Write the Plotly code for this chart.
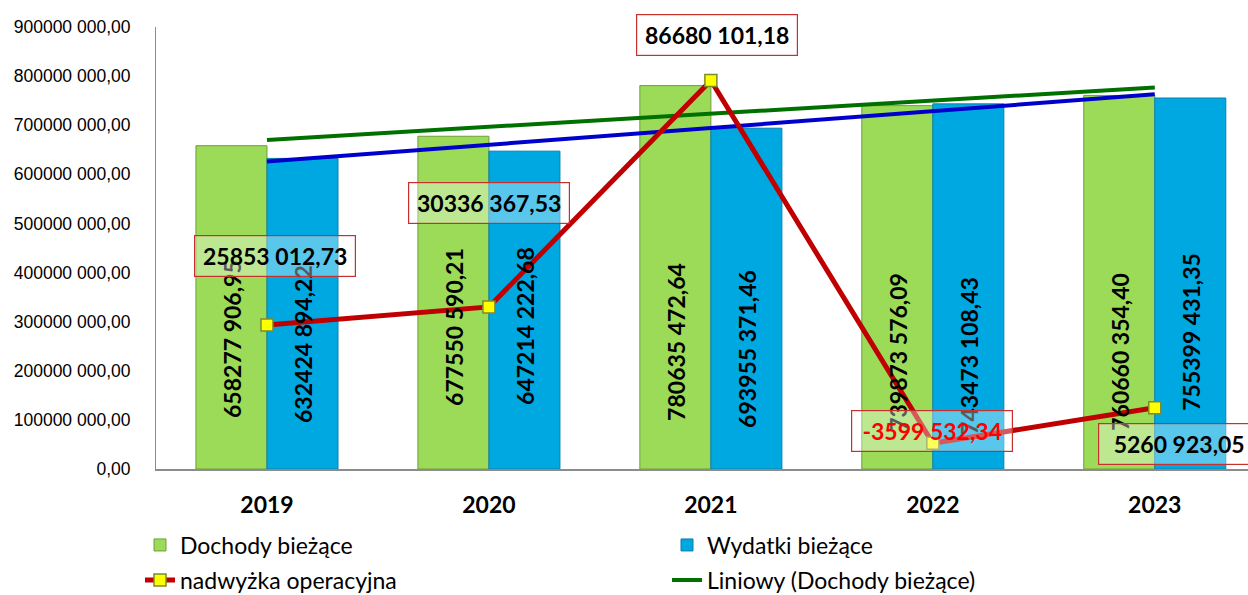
import numpy as np
import plotly.graph_objects as go

# ---------------- data ----------------
years = ["2019", "2020", "2021", "2022", "2023"]
dochody = [658277906.95, 677550590.21, 780635472.64, 739873576.09, 760660354.40]
wydatki = [632424894.22, 647214222.68, 693955371.46, 743473108.43, 755399431.35]
nadwyzka = [25853012.73, 30336367.53, 86680101.18, -3599532.34, 5260923.05]

y_tick_vals = [0, 100e6, 200e6, 300e6, 400e6, 500e6, 600e6, 700e6, 800e6, 900e6]
y_tick_text = ["0,00", "100000 000,00", "200000 000,00", "300000 000,00", "400000 000,00",
               "500000 000,00", "600000 000,00", "700000 000,00", "800000 000,00", "900000 000,00"]

name_doch = "Dochody bieżące"
name_wyd = "Wydatki bieżące"
name_nadw = "nadwyżka operacyjna"
name_trend = "Liniowy (Dochody bieżące)"
name_trend2 = "Liniowy (Wydatki bieżące)"


def fmt(v):
    neg = v < 0
    cents = int(round(abs(v) * 100))
    ip, fr = divmod(cents, 100)
    hi, lo = divmod(ip, 1000)
    s = (f"{hi} {lo:03d}" if hi else f"{lo}") + f",{fr:02d}"
    return ("-" if neg else "") + s


# linear trendlines (Excel "Liniowy")
xi = np.arange(len(years))
trend_d = np.polyval(np.polyfit(xi, dochody, 1), xi)
trend_w = np.polyval(np.polyfit(xi, wydatki, 1), xi)

# ---------------- styling ----------------
GREEN = "#9bdb57"
BLUE = "#00a8e2"
RED = "#c00000"
CAL = "Lato, 'Open Sans', sans-serif"
ARIAL = "'Liberation Sans', Arial, sans-serif"

fig = go.Figure()

fig.add_trace(go.Bar(x=years, y=dochody, name=name_doch,
                     marker=dict(color=GREEN, line=dict(color="#6f9e3a", width=1)),
                     legend="legend"))
fig.add_trace(go.Bar(x=years, y=wydatki, name=name_wyd,
                     marker=dict(color=BLUE, line=dict(color="#0a7fae", width=1)),
                     legend="legend2"))
fig.add_trace(go.Scatter(x=years, y=trend_d, name=name_trend, mode="lines",
                         line=dict(color="#007000", width=4), legend="legend4"))
fig.add_trace(go.Scatter(x=years, y=trend_w, name=name_trend2, mode="lines",
                         line=dict(color="#0000cc", width=4), showlegend=False))
fig.add_trace(go.Scatter(x=years, y=nadwyzka, name=name_nadw, mode="lines+markers", yaxis="y2",
                         line=dict(color=RED, width=5),
                         marker=dict(symbol="square", size=12, color="#ffff00",
                                     line=dict(color="#7f8a2a", width=1.5)),
                         legend="legend3"))

annotations = []
# vertical value labels inside bars
lift_d = [49, 61, 46, 36, 36]
lift_w = [44, 62, 39, 32, 56]
for i in range(len(years)):
    for val, dx, lift in ((dochody[i], -35, lift_d[i]), (wydatki[i], 36, lift_w[i])):
        annotations.append(dict(x=i, y=0, xref="x", yref="y", text=fmt(val), showarrow=False,
                                textangle=-90, xanchor="center", yanchor="bottom",
                                xshift=dx, yshift=lift,
                                font=dict(family=CAL, size=23, color="black", weight="bold")))

# boxed labels for operating surplus
box_dx = [8, 0, 6, -1, 24]
box_dy = [69, 104, 46, 12, -36]
for i in range(len(years)):
    v = nadwyzka[i]
    annotations.append(dict(x=i, y=v, xref="x", yref="y2", text=fmt(v), showarrow=False,
                            xanchor="center", yanchor="middle", xshift=box_dx[i], yshift=box_dy[i],
                            width=150, height=30, borderpad=5,
                            bordercolor="#c8302e", borderwidth=1.2,
                            bgcolor="rgba(255,255,255,0.35)",
                            font=dict(family=CAL, size=23, weight="bold",
                                      color="#ff0000" if v < 0 else "black")))

leg_common = dict(orientation="v", xanchor="left", yanchor="middle", bgcolor="rgba(0,0,0,0)",
                  font=dict(family=CAL, size=23, color="black"))


def px_x(p):
    return (p - 156) / 1092


def px_y(p):
    return (469 - p) / 442


fig.update_layout(
    width=1248, height=595,
    margin=dict(l=156, r=0, t=27, b=126, autoexpand=False),
    paper_bgcolor="white", plot_bgcolor="white",
    barmode="group", bargap=0.36, bargroupgap=0,
    showlegend=True,
    legend=dict(x=px_x(182 - 42), y=px_y(545), **leg_common),
    legend2=dict(x=px_x(709 - 42), y=px_y(545), **leg_common),
    legend3=dict(x=px_x(182 - 42), y=px_y(580), **leg_common),
    legend4=dict(x=px_x(709 - 42), y=px_y(580), **leg_common),
    xaxis=dict(type="category", range=[-0.5, 4.42], showgrid=False, showline=True,
               linecolor="#8c8c8c", linewidth=2, ticks="outside", ticklen=14,
               tickcolor="rgba(0,0,0,0)", automargin=False,
               tickfont=dict(family=CAL, size=23, color="black", weight="bold")),
    yaxis=dict(range=[0, 900e6], tickvals=y_tick_vals, ticktext=y_tick_text, showgrid=False,
               showline=True, linecolor="#8c8c8c", linewidth=1, zeroline=False,
               ticks="outside", ticklen=21, tickcolor="rgba(0,0,0,0)", automargin=False,
               tickfont=dict(family=ARIAL, size=17.5, color="black")),
    yaxis2=dict(range=[-10e6, 100e6], overlaying="y", side="right", visible=False, showgrid=False),
    annotations=annotations,
)

fig.write_html("out.html", config={"displayModeBar": False},
               post_script="document.body.style.margin='0';document.body.style.overflow='hidden';")
